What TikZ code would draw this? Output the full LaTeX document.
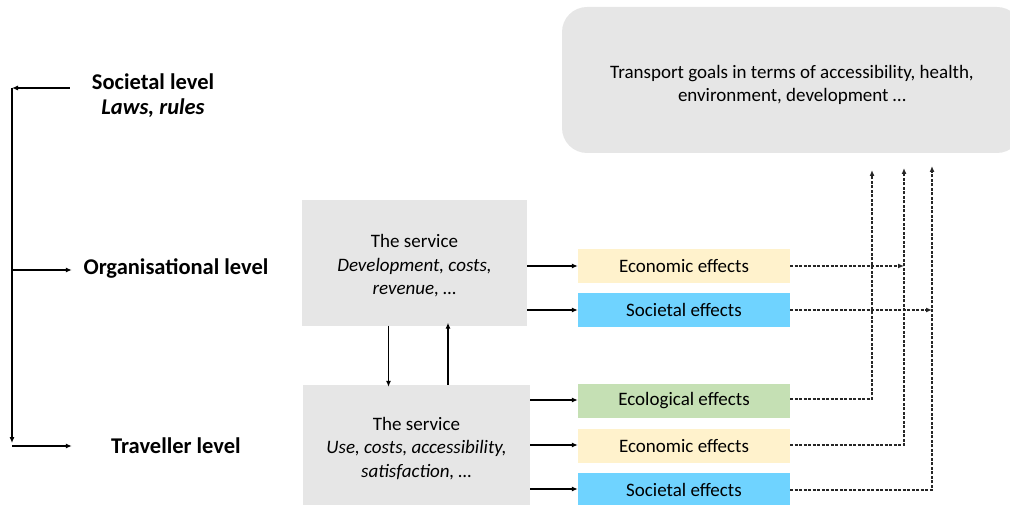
\documentclass[tikz,border=0pt]{standalone}
\usepackage{fontspec}
\setmainfont{Carlito}
\usepackage{xcolor}
\usetikzlibrary{arrows.meta, positioning, calc}

\definecolor{boxgray}{HTML}{E6E6E6}
\definecolor{ecoyellow}{HTML}{FFF2CC}
\definecolor{socblue}{HTML}{6FD3FF}
\definecolor{ecolgreen}{HTML}{C5E0B4}

\begin{document}
\begin{tikzpicture}[
  x=1pt, y=-1pt,
  level/.style   = {font=\fontsize{22.5}{26}\selectfont\bfseries, inner sep=0pt,
                    minimum height=20pt},
  service/.style = {fill=boxgray, inner sep=0pt},
  servtext/.style = {align=center, inner sep=0pt, font=\fontsize{19}{23.5}\selectfont},
  effect/.style  = {minimum width=212pt, minimum height=34pt, inner sep=0pt,
                    font=\fontsize{19}{22}\selectfont},
  arrow/.style   = {-{Latex[length=6pt, width=5pt]}, line width=1.1pt},
  darrow/.style  = {-{Latex[length=6pt, width=5pt]}, line width=1.2pt,
                    dash pattern=on 3pt off 1.5pt, black!85}
]
\useasboundingbox (0,0) rectangle (1010,505);

% ── Goals ────────────────────────────────────────────────────────────────────
\node[fill=boxgray, rounded corners=25pt, minimum width=460pt, minimum height=146pt]
  (goal) at (792,80) {};
\node[align=center, font=\fontsize{19}{23}\selectfont] (goaltext)
  at ([yshift=-5pt]goal.center)
  {Transport goals in terms of accessibility, health,\\ environment, development \dots};

% ── Levels ───────────────────────────────────────────────────────────────────
\node[level, minimum width=166pt] (soclev) at (153,82) {Societal level};
\node[level, font=\fontsize{22.5}{26}\selectfont\bfseries\itshape] (laws) at (153,108) {Laws, rules};
\node[level, minimum width=208pt] (orglev) at (176,268) {Organisational level};
\node[level, minimum width=208pt] (travlev) at (176,446) {Traveller level};

\coordinate (spinetop) at (12,88);
\coordinate (spinebot) at (12,443);
\coordinate (spineorg) at (12,270);
\coordinate (spinetrav) at (12,446);

\draw[arrow] (soclev.west |- spinetop) -- (spinetop);
\draw[arrow] (spinetop) -- (spinebot);
\draw[arrow] (spineorg) -- (orglev.west |- spineorg);
\draw[arrow] (spinetrav) -- (travlev.west);

% ── Services ─────────────────────────────────────────────────────────────────
\node[service, minimum width=225pt, minimum height=125pt] (serv1) at (414.5,263) {};
\node[servtext] (servtext1) at ([yshift=-3pt]serv1.center)
  {The service\\ \itshape Development, costs,\\ \itshape revenue, \dots};
\node[service, minimum width=227pt, minimum height=124pt] (serv2) at (416.5,447) {};
\node[servtext] (servtext2) at ([yshift=-1.5pt]serv2.center)
  {The service\\ \itshape Use, costs, accessibility,\\ \itshape satisfaction, \dots};

\draw[arrow] ([xshift=-26pt]serv1.south) -- ([xshift=-28pt,yshift=-2pt]serv2.north);
\draw[arrow] ([xshift=31.5pt]serv2.north) -- ([xshift=33.5pt,yshift=3pt]serv1.south);

% ── Effects ──────────────────────────────────────────────────────────────────
\node[effect, fill=ecoyellow] (eco1)  at (684,266) {Economic effects};
\node[effect, fill=socblue]   (soc1)  at (684,310) {Societal effects};
\node[effect, fill=ecolgreen] (ecol2) at (684,401) {Ecological effects};
\node[effect, fill=ecoyellow] (eco2)  at (684,446) {Economic effects};
\node[effect, fill=socblue]   (soc2)  at (684,490) {Societal effects};

\foreach \e in {eco1, soc1}
  \draw[arrow] (\e.west -| serv1.east) -- (\e.west);
\foreach \e in {ecol2, eco2, soc2}
  \draw[arrow] ([yshift=1pt]\e.west -| serv2.east) -- ([yshift=1pt]\e.west);

% ── Links to the goals ───────────────────────────────────────────────────────
\coordinate (goal1) at (872,170);
\coordinate (goal2) at (904,168);
\coordinate (goal3) at (932,166);

\draw[darrow] ([yshift=2pt]ecol2.east) -| (goal1);
\draw[darrow] ([yshift=1pt]eco2.east) -| (goal2);
\draw[darrow] (soc2.east) -| (goal3);
\draw[darrow] (eco1.east) -- (eco1.east -| goal2);
\draw[darrow] (soc1.east) -- (soc1.east -| goal3);

\end{tikzpicture}
\end{document}
